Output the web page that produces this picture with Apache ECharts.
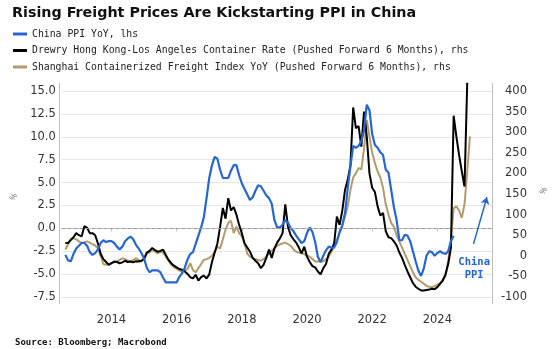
<!DOCTYPE html>
<html><head><meta charset="utf-8">
<script src="https://cdn.jsdelivr.net/npm/echarts@6/dist/echarts.min.js"></script>
<style>html,body{margin:0;padding:0;background:#fff}#c{width:559px;height:349px}</style>
</head><body><div id="c"></div>
<script>
// Monthly observations starting July 2012 (month-end)
const startYear = 2012, startMonth = 7, monthCount = 150;
const months = [];
for (let i = 0; i < monthCount; i++) {
  const m0 = startMonth - 1 + i;
  months.push((startYear + Math.floor(m0 / 12)) + '-' + String(m0 % 12 + 1).padStart(2, '0'));
}

// China PPI YoY, % (lhs)
const ppi = [
  -2.9, -3.5, -3.6, -2.8, -2.2, -1.9,
  -1.6, -1.6, -1.9, -2.6, -2.9, -2.7, -2.3, -1.6, -1.3, -1.5, -1.4, -1.4,
  -1.6, -2.0, -2.3, -2.0, -1.4, -1.1, -0.9, -1.2, -1.8, -2.2, -2.7, -3.3,
  -4.3, -4.8, -4.6, -4.6, -4.6, -4.8, -5.4, -5.9, -5.9, -5.9, -5.9, -5.9,
  -5.3, -4.9, -4.3, -3.4, -2.8, -2.6, -1.7, -0.8, 0.1, 1.2, 3.3, 5.5,
  6.9, 7.8, 7.6, 6.4, 5.5, 5.5, 5.5, 6.3, 6.9, 6.9, 5.8, 4.9,
  4.3, 3.7, 3.1, 3.4, 4.1, 4.7, 4.6, 4.1, 3.6, 3.3, 2.7, 0.9,
  0.1, 0.1, 0.4, 0.9, 0.6, 0.0, -0.3, -0.8, -1.2, -1.6, -1.4, -0.5,
  0.1, -0.4, -1.5, -3.1, -3.7, -3.0, -2.4, -2.0, -2.1, -2.1, -1.5, -0.4,
  0.3, 1.7, 4.4, 6.8, 9.0, 8.8, 9.0, 9.5, 10.7, 13.5, 12.9, 10.3,
  9.1, 8.8, 8.3, 8.0, 6.4, 6.1, 4.2, 2.3, 0.9, -1.3, -1.3, -0.7,
  -0.8, -1.4, -2.5, -3.6, -4.6, -5.2, -4.4, -3.0, -2.5, -2.6, -3.0, -2.7,
  -2.5, -2.7, -2.8, -2.5, -1.4, -0.8
];

// Drewry HK-LA container rate YoY, pushed forward 6 months (rhs)
const drewry = [
  31, 31, 38, 45, 55, 50, 47, 72, 68, 55, 55, 50,
  30, 5, -8, -15, -22, -18, -14, -15, -18, -16, -12, -15,
  -14, -16, -13, -14, -12, -8, 8, 12, 19, 14, 10, 12,
  15, 2, -10, -18, -24, -28, -32, -34, -38, -44, -52, -55,
  -46, -60, -52, -48, -55, -45, -15, 8, 30, 71, 116, 90,
  140, 110, 118, 100, 75, 55, 30, 20, 10, -5, -12, -18,
  -30, -22, -5, 15, -5, 18, 32, 42, 55, 125, 70, 50,
  40, 32, 20, 6, 22, -2, -15, -25, -28, -38, -45, -30,
  -20, 5, 15, 30, 95, 75, 110, 160, 185, 220, 360, 310,
  315, 265, 350, 290, 200, 165, 155, 120, 98, 104, 60, 45,
  43, 35, 25, 8, -5, -22, -38, -52, -66, -75, -80, -84,
  -84, -83, -82, -80, -81, -76, -68, -60, -45, -20, 20, 340,
  290, 245, 205, 168, 420
];

// Shanghai Containerized Freight Index YoY, pushed forward 6 months (rhs)
const scfi = [
  15, 28, 41, 43, 40, 35, 31, 33, 35, 32, 28, 25,
  18, 0, -20, -22, -20, -18, -16, -14, -10, -6, -8, -12,
  -14, -10, -6, -10, -14, -5, 5, 8, 14, 10, 6, 10,
  8, -2, -12, -22, -28, -32, -36, -38, -36, -32, -18, -35,
  -40, -30, -20, -10, -8, -5, 0, 10, 22, 18, 40, 63,
  80, 85, 55, 71, 55, 47, 30, 5, -2, -6, -8, -10,
  -12, -8, -2, 6, 12, 18, 24, 28, 30, 32, 28, 24,
  16, 10, 8, 6, 4, 0, -2, -8, -14, -14, -12, -14,
  -8, -2, 10, 23, 40, 55, 75, 95, 120, 160, 190, 200,
  213, 210, 260, 330, 290, 250, 225, 205, 190, 165, 125, 100,
  80, 71, 50, 35, 20, 5, -10, -25, -40, -52, -58, -63,
  -68, -73, -75, -76, -74, -70, -66, -58, -50, -12, 40, 115,
  120, 110, 92, 125, 205, 290
];

const xTickYears = [2014, 2016, 2018, 2020, 2022, 2024];
const seriesNames = [
  'China PPI YoY, lhs',
  'Drewry Hong Kong-Los Angeles Container Rate (Pushed Forward 6 Months), rhs',
  'Shanghai Containerized Freight Index YoY (Pushed Forward 6 Months), rhs'
];
const annotationText = 'China\nPPI';

const BLUE = '#2566d4', BLACK = '#000000', TAN = '#b39b6b';

function xOf(label) {
  const [y, m] = label.split('-').map(Number);
  return y + m / 12;
}
function toPairs(arr) { return arr.map((v, i) => [xOf(months[i]), v]); }

const chart = echarts.init(document.getElementById('c'), null, { renderer: 'canvas' });
const option = {
  backgroundColor: '#ffffff',
  animation: false,
  title: [
    { text: 'Rising Freight Prices Are Kickstarting PPI in China', left: 7, top: 1,
      textStyle: { fontFamily: 'DejaVu Sans', fontWeight: 'bold', fontSize: 14.3, color: '#111' } },
    { text: 'Source: Bloomberg; Macrobond', left: 10, top: 333,
      textStyle: { fontFamily: 'DejaVu Sans Mono', fontWeight: 'bold', fontSize: 9, color: '#111' } }
  ],
  legend: {
    data: seriesNames, orient: 'vertical', left: 8, top: 23, itemGap: 4.5,
    icon: 'rect', itemWidth: 14, itemHeight: 3,
    textStyle: { fontFamily: 'DejaVu Sans Mono', fontSize: 9.8, color: '#222', lineHeight: 12 }
  },
  grid: { left: 59, right: 67, top: 91, bottom: 52 },
  xAxis: {
    type: 'value', min: 2012.476, max: 2025.677, offset: 7,
    axisLine: { show: true, lineStyle: { color: '#bdbdbd', width: 1 } },
    axisTick: { show: true, customValues: xTickYears, length: 3, lineStyle: { color: '#bdbdbd' } },
    axisLabel: { customValues: xTickYears, margin: 10, fontFamily: 'DejaVu Sans', fontSize: 11.5, color: '#333',
      formatter: v => String(Math.round(v)) },
    splitLine: { show: false }
  },
  yAxis: [
    { type: 'value', min: -7.5, max: 15, interval: 2.5, position: 'left',
      name: '%', nameLocation: 'middle', nameGap: 44, nameRotate: 60,
      nameTextStyle: { fontSize: 8, color: '#666' },
      axisLine: { show: false }, axisTick: { show: false },
      axisLabel: { margin: 6, fontFamily: 'DejaVu Sans', fontSize: 11.5, color: '#333',
        formatter: v => v.toFixed(1) },
      splitLine: { show: true, lineStyle: { color: '#e6e6e6', width: 1 } } },
    { type: 'value', min: -100, max: 400, interval: 50, position: 'right',
      name: '%', nameLocation: 'middle', nameGap: 42, nameRotate: 60,
      nameTextStyle: { fontSize: 8, color: '#666' },
      axisLine: { show: false }, axisTick: { show: false },
      axisLabel: { margin: 35, align: 'right', fontFamily: 'DejaVu Sans', fontSize: 11.5, color: '#333' },
      splitLine: { show: false } }
  ],
  graphic: [
    { type: 'line', shape: { x1: 59.5, y1: 83, x2: 59.5, y2: 304 }, style: { stroke: '#bdbdbd', lineWidth: 1 }, z: 0 },
    { type: 'line', shape: { x1: 492.5, y1: 83, x2: 492.5, y2: 304 }, style: { stroke: '#bdbdbd', lineWidth: 1 }, z: 0 }
  ],
  series: [
    { name: 'zero', type: 'line', yAxisIndex: 0, data: [], z: 1, silent: true,
      markLine: { silent: true, symbol: ['none', 'none'], label: { show: false },
        lineStyle: { type: [3, 3], color: '#9a9a9a', width: 1 }, data: [{ yAxis: 0 }] } },
    { name: seriesNames[2], type: 'line', yAxisIndex: 1, data: toPairs(scfi), showSymbol: false, clip: false,
      lineStyle: { width: 2, color: TAN }, itemStyle: { color: TAN }, z: 2 },
    { name: seriesNames[1], type: 'line', yAxisIndex: 1, data: toPairs(drewry), showSymbol: false, clip: false,
      lineStyle: { width: 2, color: BLACK }, itemStyle: { color: BLACK }, z: 3 },
    { name: seriesNames[0], type: 'line', yAxisIndex: 0, data: toPairs(ppi), showSymbol: false, clip: false,
      lineStyle: { width: 2.2, color: BLUE }, itemStyle: { color: BLUE }, z: 4,
      markLine: { silent: true, symbol: ['none', 'arrow'], symbolSize: 7, label: { show: false },
        lineStyle: { type: 'solid', color: BLUE, width: 1.5 },
        data: [[{ coord: [2025.11, -1.7] }, { coord: [2025.52, 3.4] }]] },
      markPoint: { silent: true, symbol: 'circle', symbolSize: 0,
        label: { show: true, position: 'inside', formatter: annotationText, color: BLUE,
          fontFamily: 'DejaVu Sans Mono', fontSize: 10.5, fontWeight: 'bold', lineHeight: 13, align: 'center' },
        data: [{ coord: [2025.13, -4.4] }] } }
  ]
};
chart.setOption(option);
</script>
</body></html>
